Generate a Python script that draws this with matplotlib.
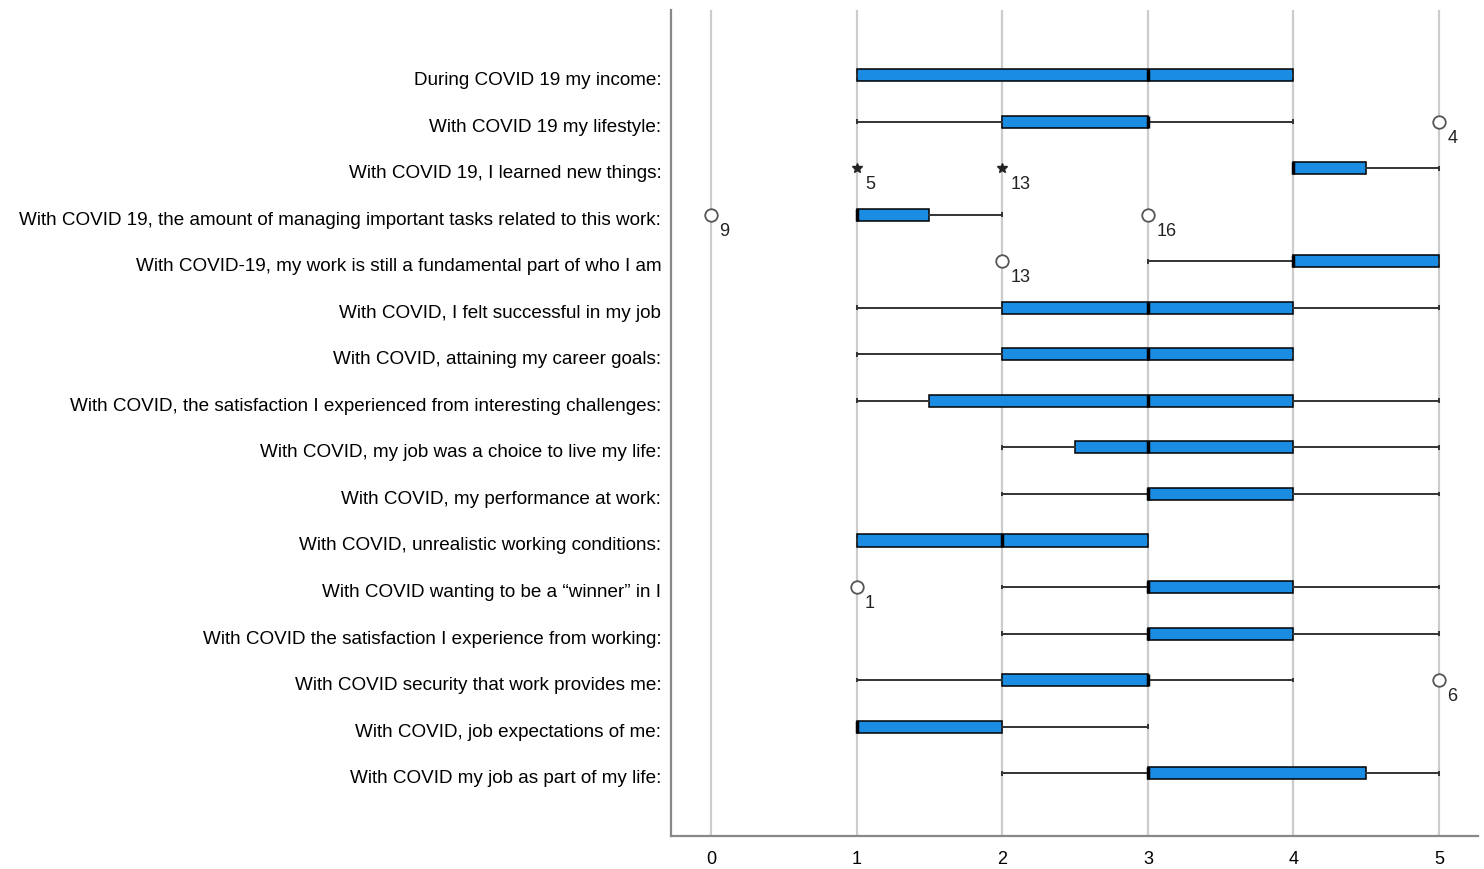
import numpy as np
import matplotlib.pyplot as plt
import matplotlib.transforms as mtransforms

plt.rcParams['font.family'] = ['Liberation Sans', 'DejaVu Sans']

questions = [
    'During COVID 19 my income:',
    'With COVID 19 my lifestyle:',
    'With COVID 19, I learned new things:',
    'With COVID 19, the amount of managing important tasks related to this work:',
    'With COVID-19, my work is still a fundamental part of who I am',
    'With COVID, I felt successful in my job',
    'With COVID, attaining my career goals:',
    'With COVID, the satisfaction I experienced from interesting challenges:',
    'With COVID, my job was a choice to live my life:',
    'With COVID, my performance at work:',
    'With COVID, unrealistic working conditions:',
    'With COVID wanting to be a \u201cwinner\u201d in I',
    'With COVID the satisfaction I experience from working:',
    'With COVID security that work provides me:',
    'With COVID, job expectations of me:',
    'With COVID my job as part of my life:',
]
whis_lo = [1, 1, 4, 1, 3, 1, 1, 1, 2, 2, 1, 2, 2, 1, 1, 2]
q1 =      [1, 2, 4, 1, 4, 2, 2, 1.5, 2.5, 3, 1, 3, 3, 2, 1, 3]
median =  [3, 3, 4, 1, 4, 3, 3, 3, 3, 3, 2, 3, 3, 3, 1, 3]
q3 =      [4, 3, 4.5, 1.5, 5, 4, 4, 4, 4, 4, 3, 4, 4, 3, 2, 4.5]
whis_hi = [4, 4, 5, 2, 5, 5, 4, 5, 5, 5, 3, 5, 5, 4, 3, 5]

# outliers: (row, value, case id, extreme?)
out_row = [1, 2, 2, 3, 3, 4, 11, 13]
out_val = [5, 1, 2, 0, 3, 2, 1, 5]
out_id = ['4', '5', '13', '9', '16', '13', '1', '6']
out_extreme = [False, True, True, False, False, False, False, False]

stats = []
for i in range(len(questions)):
    stats.append(dict(whislo=whis_lo[i], q1=q1[i], med=median[i],
                      q3=q3[i], whishi=whis_hi[i], fliers=[]))

fig = plt.figure(figsize=(14.84, 8.69), dpi=100)
ax = fig.add_axes([0.4522, 0.038, 0.5438, 0.9505])

pos = np.arange(len(questions))
ax.bxp(stats, positions=pos, orientation='horizontal', widths=0.26,
       patch_artist=True, showfliers=False, capwidths=0.06,
       boxprops=dict(facecolor='#1a8de3', edgecolor='black', linewidth=1.1),
       medianprops=dict(color='black', linewidth=2.5),
       whiskerprops=dict(color='#333333', linewidth=1.4),
       capprops=dict(color='#333333', linewidth=1.4))

for r, v, lab, ext in zip(out_row, out_val, out_id, out_extreme):
    if ext:
        ax.plot(v, r, marker='*', ms=7, color='#222222', mec='#222222', ls='none')
    else:
        ax.plot(v, r, marker='o', ms=9, mfc='white', mec='#555555', mew=1.3, ls='none')
    ax.annotate(lab, (v, r), xytext=(6, -12), textcoords='offset points',
                ha='left', va='center', fontsize=13, color='#222222')

ax.set_yticks(pos)
ax.set_yticklabels(questions, fontsize=13.6)
ax.set_xticks(range(6))
ax.set_xticklabels([str(t) for t in range(6)], fontsize=13)
ax.set_xlim(-0.275, 5.268)
ax.set_ylim(15 + 1.35, -1.40)
ax.grid(axis='x', color='#cccccc', linewidth=1.6)
ax.set_axisbelow(True)
ax.tick_params(axis='y', length=0, pad=7)
ax.tick_params(axis='x', length=0, pad=11)
shift = mtransforms.ScaledTranslation(0, -2.5 / 72, fig.dpi_scale_trans)
for t in ax.get_yticklabels():
    t.set_transform(t.get_transform() + shift)
for s in ['top', 'right']:
    ax.spines[s].set_visible(False)
for s in ['left', 'bottom']:
    ax.spines[s].set_color('#888888')
    ax.spines[s].set_linewidth(1.6)

fig.savefig('out.png', dpi=100)
